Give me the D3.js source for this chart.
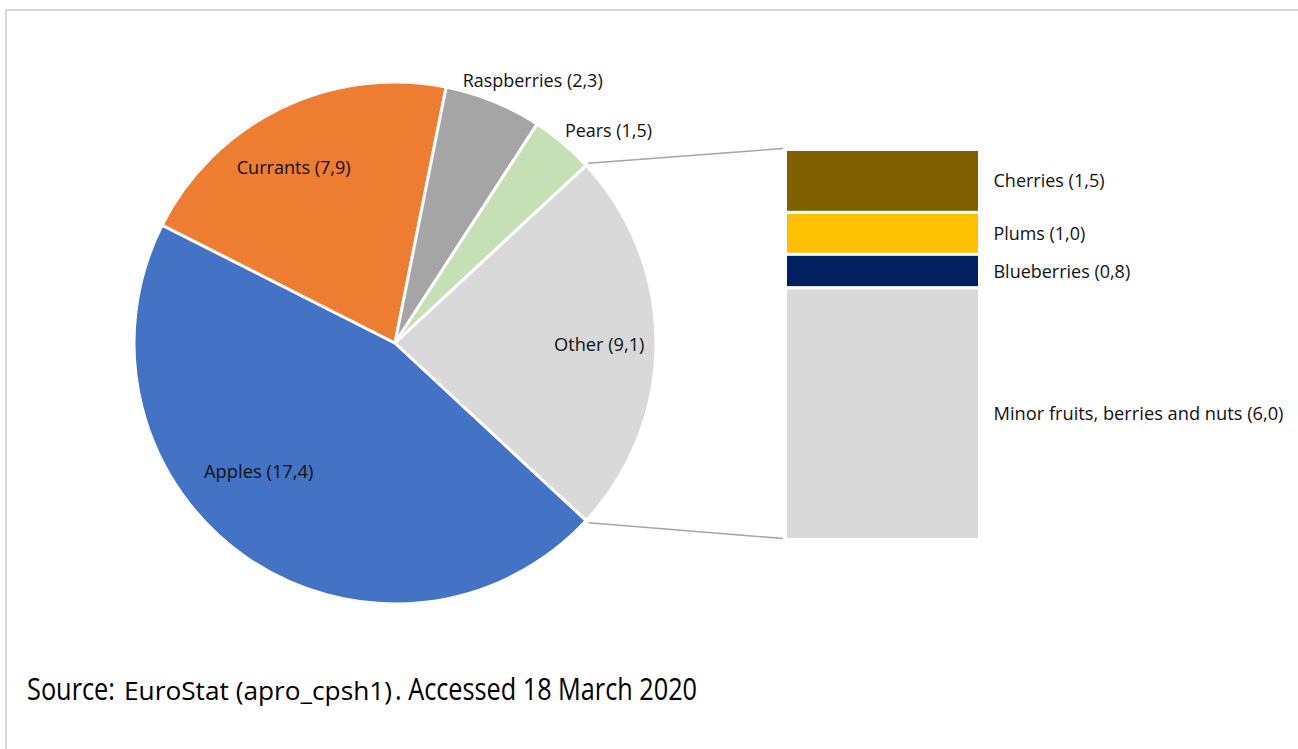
<!DOCTYPE html>
<html>
<head>
<meta charset="utf-8">
<script src="https://cdn.jsdelivr.net/npm/d3@7"></script>
<style>
  body { margin: 0; background: #fff; }
  svg { display: block; }
  text { font-family: "Open Sans", "Liberation Sans", sans-serif; fill: #111; }
</style>
</head>
<body>
<svg id="chart" width="1298" height="749"></svg>
<script>
// Fruit production shares (EuroStat apro_cpsh1)
const pieCategories = ["Apples", "Currants", "Raspberries", "Pears", "Other"];
const pieValues = [17.4, 7.9, 2.3, 1.5, 9.1];
const pieColors = ["#4472C4", "#ED7D31", "#A5A5A5", "#C5E0B4", "#D9D9D9"];

// Breakdown of the "Other" slice
const barCategories = ["Cherries", "Plums", "Blueberries", "Minor fruits, berries and nuts"];
const barValues = [1.5, 1.0, 0.8, 6.0];
const barColors = ["#7F6000", "#FFC000", "#002060", "#D9D9D9"];

const sourceParts = ["Source:", "EuroStat (apro_cpsh1)", ". Accessed 18 March 2020"];

// Layout
const W = 1298, H = 749;
const cx = 395, cy = 343, R = 261;
const bar = { x0: 785.5, x1: 979.5, y0: 149.5, y1: 539.5 };
const labelFont = 19;
const fmt = v => d3.format(".1f")(v).replace(".", ",");

// label anchors for pie slices: [left x, baseline y, rendered width]
const pieLabelLayout = {
  "Apples":      [204, 478.3, 109.5],
  "Currants":    [236.7, 174.3, 114],
  "Raspberries": [462.7, 86.7, 140],
  "Pears":       [565, 137.3, 87],
  "Other":       [554, 351, 90.5]
};
const barLabelWidths = [111, 91.7, 136.7, 290];

const svg = d3.select("#chart");

// chart frame
svg.append("rect")
  .attr("x", 6).attr("y", 10)
  .attr("width", W + 20).attr("height", H + 20)
  .attr("fill", "none").attr("stroke", "#D9D9D9").attr("stroke-width", 2);

// ---- pie ----
const total = d3.sum(pieValues);
const otherIdx = pieCategories.indexOf("Other");
const otherAngle = 2 * Math.PI * pieValues[otherIdx] / total;
// rotate so the "Other" slice is centred on the right-hand side
const start = Math.PI / 2 + otherAngle / 2;

const pie = d3.pie().sort(null).value(d => d.value)
  .startAngle(start).endAngle(start + 2 * Math.PI);
const pieData = pie(pieCategories.map((c, i) => ({ name: c, value: pieValues[i], color: pieColors[i] })));
const arc = d3.arc().innerRadius(0).outerRadius(R);

const g = svg.append("g").attr("transform", `translate(${cx},${cy})`);
g.selectAll("path").data(pieData).join("path")
  .attr("d", arc)
  .attr("fill", d => d.data.color)
  .attr("stroke", "#fff").attr("stroke-width", 3).attr("stroke-linejoin", "round");

// ---- stacked bar for "Other" ----
const barTotal = d3.sum(barValues);
const y = d3.scaleLinear().domain([0, barTotal]).range([bar.y0, bar.y1]);
const cum = d3.cumsum(barValues);
const barData = barCategories.map((c, i) => ({
  name: c, value: barValues[i], color: barColors[i],
  lo: cum[i] - barValues[i], hi: cum[i], w: barLabelWidths[i]
}));

svg.append("g").selectAll("rect").data(barData).join("rect")
  .attr("x", bar.x0)
  .attr("width", bar.x1 - bar.x0)
  .attr("y", d => y(d.lo))
  .attr("height", d => y(d.hi) - y(d.lo))
  .attr("fill", d => d.color)
  .attr("stroke", "#fff").attr("stroke-width", 3);

// connector lines from the "Other" slice edges to the bar
const oth = pieData[otherIdx];
const edgePt = a => [cx + (R + 3) * Math.sin(a), cy - (R + 3) * Math.cos(a)];
const pTop = edgePt(oth.startAngle), pBot = edgePt(oth.endAngle);
svg.append("line")
  .attr("x1", pTop[0]).attr("y1", pTop[1])
  .attr("x2", bar.x0 - 2.5).attr("y2", y(0) - 1)
  .attr("stroke", "#A6A6A6").attr("stroke-width", 1.5);
svg.append("line")
  .attr("x1", pBot[0]).attr("y1", pBot[1])
  .attr("x2", bar.x0 - 2.5).attr("y2", y(barTotal) - 1)
  .attr("stroke", "#A6A6A6").attr("stroke-width", 1.5);

// ---- labels ----
svg.append("g").selectAll("text").data(pieData).join("text")
  .attr("x", d => pieLabelLayout[d.data.name][0])
  .attr("y", d => pieLabelLayout[d.data.name][1])
  .attr("textLength", d => pieLabelLayout[d.data.name][2])
  .attr("lengthAdjust", "spacingAndGlyphs")
  .attr("font-size", labelFont)
  .text(d => `${d.data.name} (${fmt(d.data.value)})`);

svg.append("g").selectAll("text").data(barData).join("text")
  .attr("x", bar.x1 + 14)
  .attr("y", d => (y(d.lo) + y(d.hi)) / 2 + 6.5)
  .attr("textLength", d => d.w)
  .attr("lengthAdjust", "spacingAndGlyphs")
  .attr("font-size", labelFont)
  .text(d => `${d.name} (${fmt(d.value)})`);

// ---- source note ----
const srcLayout = [[27, 88, 31], [124, 268, 26], [395, 302, 31]];
svg.append("g").selectAll("text").data(sourceParts).join("text")
  .attr("x", (d, i) => srcLayout[i][0])
  .attr("y", 700)
  .attr("textLength", (d, i) => srcLayout[i][1])
  .attr("lengthAdjust", "spacingAndGlyphs")
  .attr("font-size", (d, i) => srcLayout[i][2])
  .style("fill", "#000")
  .text(d => d);
</script>
</body>
</html>
